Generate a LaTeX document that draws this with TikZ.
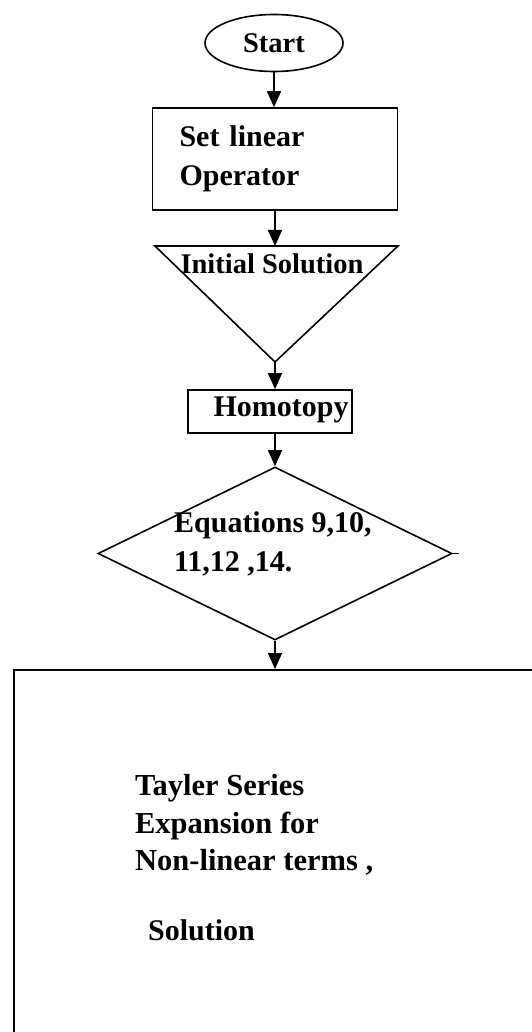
\documentclass[tikz,border=0pt]{standalone}
\usepackage{fontspec}
\setmainfont{Liberation Serif}
\usetikzlibrary{arrows.meta, positioning, shapes.geometric}

\begin{document}
\begin{tikzpicture}[x=1pt, y=-1pt, line width=1.6pt,
    flowarrow/.style={-{Triangle[length=16pt,width=14pt]}},
    chartfont/.style={font=\fontsize{30}{39}\selectfont\bfseries},
    smallfont/.style={font=\fontsize{28.5}{37}\selectfont\bfseries},
    procbox/.style={rectangle, draw, inner sep=0pt}]
\useasboundingbox (0,0) rectangle (532,1032);
\clip (0,0) rectangle (532,1032);

% Start
\node[ellipse, draw, minimum width=138pt, minimum height=57pt, inner sep=0pt, smallfont] (start) at (274,43) {Start};

% Linear operator box
\node[procbox, minimum width=245pt, minimum height=102pt, text width=191pt, align=left, chartfont] (setop) at (275,159) {Set linear\\Operator};

% Initial solution triangle
\coordinate (tri nw) at (155,246);
\coordinate (tri ne) at (398,246);
\coordinate (tri apex) at (275,362);
\draw[line join=miter] (tri nw) -- (tri ne) -- (tri apex) -- cycle;
\node[smallfont] (initsol) at (272,264) {Initial Solution};

% Homotopy box
\node[procbox, minimum width=164pt, minimum height=43pt] (homotopy) at (270,411.5) {};
\node[chartfont] (homotext) at (281,410) {Homotopy};

% Equations diamond
\node[diamond, draw, minimum width=354pt, minimum height=173pt, inner sep=0pt] (eqn) at (275,553.5) {};
\node[chartfont, align=left, anchor=west] (eqntext) at (170,544) {Equations 9,10,\\11,12 ,14.};
\draw (eqn.east) -- ++(6,0);

% Result box
\node[procbox, anchor=north west, minimum width=540pt, minimum height=400pt] (result) at (13,669) {};
\node[chartfont, align=left, anchor=west, font=\fontsize{30.5}{37.5}\selectfont\bfseries] (taylor) at (131,825) {Tayler Series\\Expansion for\\Non-linear terms ,};
\node[chartfont, anchor=west] (solution) at (144,930) {Solution};

% Connectors
\draw[flowarrow] (start.south) -- (start.south |- setop.north);
\draw[flowarrow] (setop.south) -- (setop.south |- tri nw);
\draw[flowarrow] (tri apex) -- (tri apex |- homotopy.north);
\draw[flowarrow] (homotopy.south -| eqn.north) -- (eqn.north);
\draw[flowarrow] (eqn.south) -- (eqn.south |- result.north);
\end{tikzpicture}
\end{document}
